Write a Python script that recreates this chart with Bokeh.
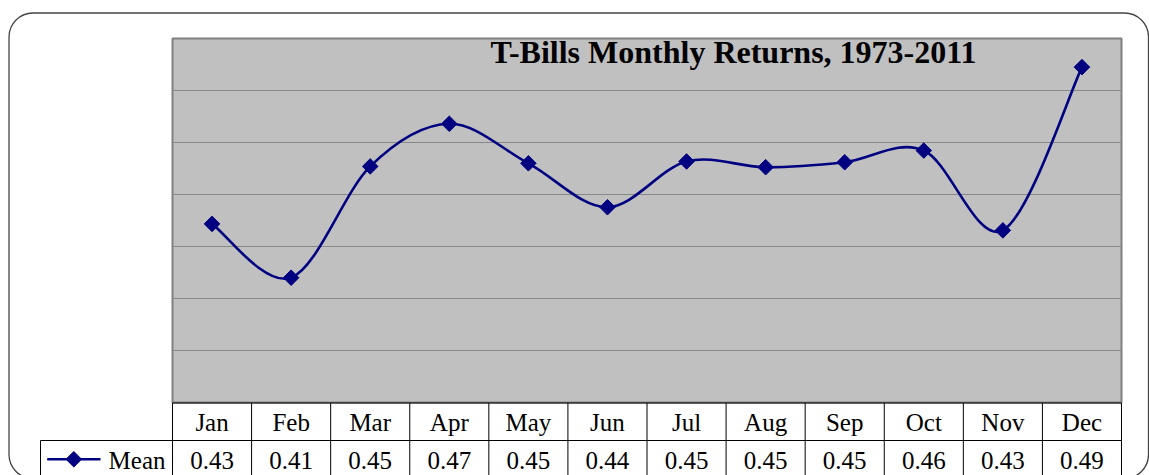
import numpy as np
from bokeh.plotting import figure
from bokeh.models import Range1d, Label, BoxAnnotation
from bokeh.core.properties import value
from bokeh.embed import file_html
from bokeh.resources import INLINE

# ---- data ----
months = ["Jan", "Feb", "Mar", "Apr", "May", "Jun", "Jul", "Aug", "Sep", "Oct", "Nov", "Dec"]
mean_values = [0.4287, 0.4080, 0.4508, 0.4672, 0.4520, 0.4351,
               0.4527, 0.4505, 0.4524, 0.4569, 0.4262, 0.4890]
mean_labels = ["0.43", "0.41", "0.45", "0.47", "0.45", "0.44",
               "0.45", "0.45", "0.45", "0.46", "0.43", "0.49"]
y_gridlines = [0.38, 0.40, 0.42, 0.44, 0.46, 0.48]
y_min, y_max = 0.36, 0.50
title_text = "T-Bills Monthly Returns, 1973-2011"
series_name = "Mean"

# ---- layout ----
W, H = 1149, 475
MARGIN = 0
PLOT_L, PLOT_R, PLOT_T, PLOT_B = 172, 1121, 38, 402
col_px = (PLOT_R - PLOT_L) / len(months)
px_per_val = (PLOT_B - PLOT_T) / (y_max - y_min)
ROW_PX = 37.5
TBL_TOP = 402.5

def xp(page_x):
    return 0.5 + (page_x - PLOT_L) / col_px

def yv(page_y):
    return y_max - (page_y - PLOT_T) / px_per_val

def yr(page_y):
    return -(page_y - TBL_TOP) / ROW_PX

p = figure(width=W, height=H, output_backend="svg", toolbar_location=None,
           x_range=Range1d(xp(MARGIN), xp(MARGIN + W)),
           y_range=Range1d(yv(MARGIN + H), yv(MARGIN)),
           x_axis_type=None, y_axis_type=None, min_border=0)
p.extra_y_ranges = {"tbl": Range1d(yr(MARGIN + H), yr(MARGIN))}
p.outline_line_color = None
p.background_fill_color = "white"
p.border_fill_color = "white"

n = len(months)
xs = np.arange(1, n + 1, dtype=float)
ys = np.array(mean_values)
NAVY = "#000080"
FONT = value("Liberation Serif")

# plot area
p.quad(left=[0.5], right=[n + 0.5], bottom=[y_min], top=[y_max],
       fill_color="#C0C0C0", line_color="#808080", line_width=2)
p.segment(x0=[0.5] * len(y_gridlines), x1=[n + 0.5] * len(y_gridlines),
          y0=y_gridlines, y1=y_gridlines, line_color="#888888", line_width=1)

# smoothed line (Catmull-Rom bezier through the data points)
P = np.column_stack([xs, ys])
Pm = np.vstack([P[0], P, P[-1]])
c0 = P[:-1] + (Pm[2:-1] - Pm[0:-3]) / 6.0
c1 = P[1:] - (Pm[3:] - Pm[1:-2]) / 6.0
p.bezier(x0=P[:-1, 0], y0=P[:-1, 1], x1=P[1:, 0], y1=P[1:, 1],
         cx0=c0[:, 0], cy0=c0[:, 1], cx1=c1[:, 0], cy1=c1[:, 1],
         line_color=NAVY, line_width=2.6)
p.scatter(xs, ys, marker="square", size=11, angle=np.pi / 4,
          fill_color=NAVY, line_color=NAVY)

# data table
edges = np.arange(0.5, n + 1.5)
leg_left = xp(40)
p.segment(x0=[0.5, leg_left], x1=[n + 0.5, n + 0.5], y0=[0, -1], y1=[0, -1],
          y_range_name="tbl", line_color="black", line_width=1)
p.segment(x0=list(edges) + [leg_left], x1=list(edges) + [leg_left],
          y0=[0] * len(edges) + [-1], y1=[-2] * len(edges) + [-2],
          y_range_name="tbl", line_color="black", line_width=1)
p.text(x=xs, y=[-0.53] * n, text=months, y_range_name="tbl",
       text_font=FONT, text_font_size="25px", text_align="center",
       text_baseline="middle", text_color="black")
p.text(x=xs, y=[-1.53] * n, text=mean_labels, y_range_name="tbl",
       text_font=FONT, text_font_size="25px", text_align="center",
       text_baseline="middle", text_color="black")

# legend key inside table
p.segment(x0=[xp(46.7)], x1=[xp(100)], y0=[-1.5], y1=[-1.5], y_range_name="tbl",
          line_color=NAVY, line_width=2.6)
p.scatter([xp(73.3)], [-1.5], y_range_name="tbl", marker="square", size=11,
          angle=np.pi / 4, fill_color=NAVY, line_color=NAVY)
p.text(x=[xp(165)], y=[-1.53], text=[series_name], y_range_name="tbl",
       text_font=FONT, text_font_size="25px", text_align="right",
       text_baseline="middle", text_color="black")

# title
p.add_layout(Label(x=xp(490), y=yv(51), text=title_text, text_font="Liberation Serif",
                   text_font_size="32px", text_font_style="bold",
                   text_baseline="alphabetic", text_align="left", text_color="black"))

# rounded chart border
p.add_layout(BoxAnnotation(left=xp(8.5), right=xp(1148), top=yv(12.5), bottom=yv(478),
                           fill_color=None, fill_alpha=0, line_color="#444444",
                           line_alpha=1.0, line_width=1.3, border_radius=24))

open("out.html", "w").write(file_html(p, INLINE))
